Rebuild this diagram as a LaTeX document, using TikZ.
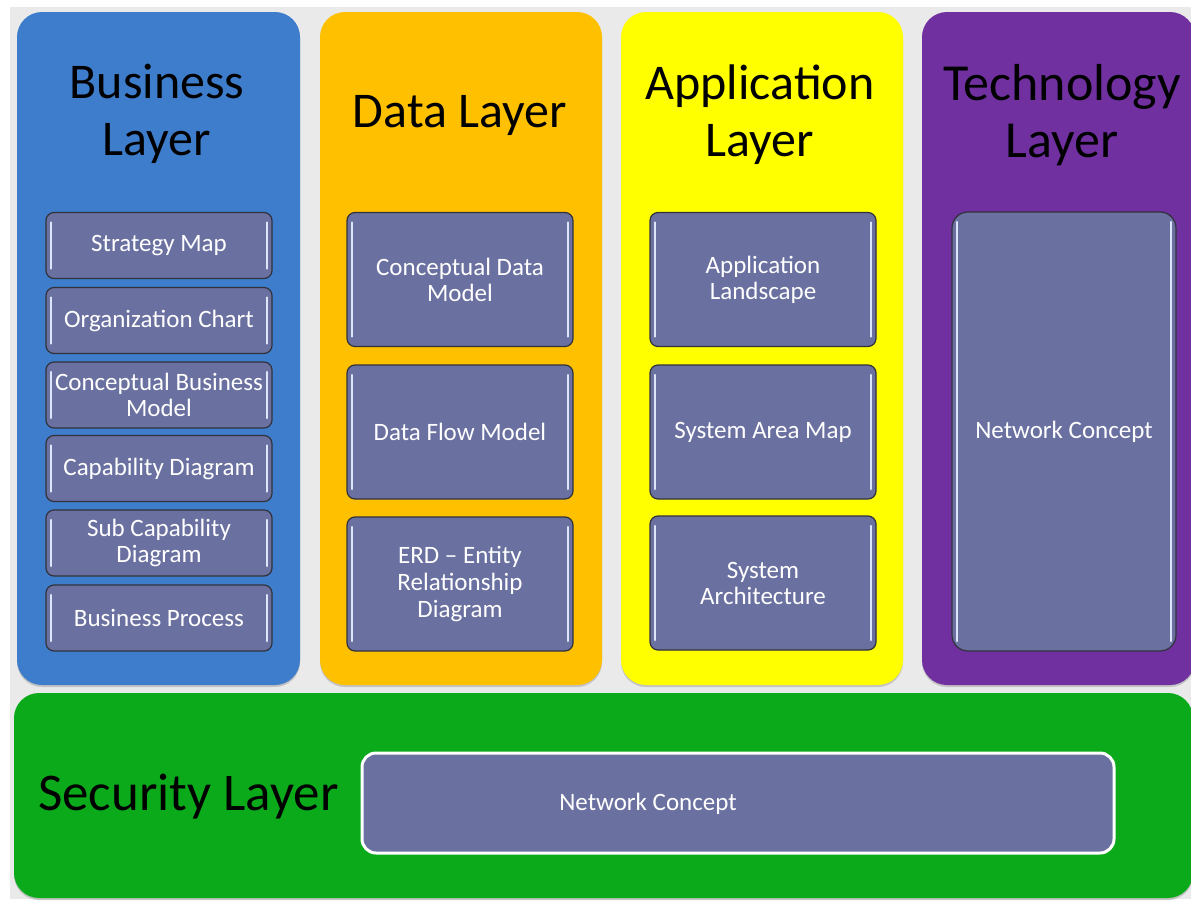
\documentclass[tikz,border=0pt]{standalone}
\usepackage{fontspec}
\setmainfont{Carlito}
\definecolor{bggray}{RGB}{234,234,234}
\definecolor{bizblue}{RGB}{61,125,203}
\definecolor{dataorange}{RGB}{255,192,0}
\definecolor{appyellow}{RGB}{255,255,0}
\definecolor{techpurple}{RGB}{112,48,160}
\definecolor{secgreen}{RGB}{10,170,26}
\definecolor{slate}{RGB}{106,112,160}
\definecolor{boxedge}{RGB}{50,50,60}
\definecolor{hlcol}{RGB}{220,230,248}
\definecolor{shadowgray}{RGB}{195,195,195}
\begin{document}
\begin{tikzpicture}[x=1pt,y=-1pt,
  layer/.style={draw=none, rounded corners=25pt, inner sep=0pt},
  layershadow/.style={fill=shadowgray, draw=none, rounded corners=25pt, inner sep=0pt},
  title/.style={font=\fontsize{50}{57}\selectfont, text=black, align=center, inner sep=0pt},
  hl/.style={line width=2.5pt, draw=hlcol, line cap=round},
  subbox/.style={draw=boxedge, line width=1.2pt, fill=slate, rounded corners=8pt,
    minimum width=226pt, inner sep=0pt, align=center, text=white,
    font=\fontsize{25}{26}\selectfont,
    path picture={
      \draw[hl] ([xshift=5pt,yshift=-10pt]path picture bounding box.north west) -- ([xshift=5pt,yshift=10pt]path picture bounding box.south west);
      \draw[hl] ([xshift=-5pt,yshift=-10pt]path picture bounding box.north east) -- ([xshift=-5pt,yshift=10pt]path picture bounding box.south east);
    }},
  smallbox/.style={subbox, minimum height=66pt},
  bigbox/.style={subbox, minimum height=134pt}
]
\useasboundingbox (0,0) rectangle (1191,902);
\clip (0,0) rectangle (1191,902);
\fill[white] (0,0) rectangle (1191,902);
\fill[bggray] (10,7) rectangle (1191,899);

% shadows
\node[layershadow, minimum width=283pt, minimum height=673pt] (bizsh) at (158.5,350.5) {};
\node[layershadow, minimum width=282pt, minimum height=673pt] (datash) at (461,350.5) {};
\node[layershadow, minimum width=282pt, minimum height=673pt] (appsh) at (762,350.5) {};
\node[layershadow, minimum width=273pt, minimum height=673pt] (techsh) at (1058.5,350.5) {};
\node[layershadow, minimum width=1179pt, minimum height=205pt] (secsh) at (603.5,797.5) {};

% columns
\node[layer, fill=bizblue, minimum width=283pt, minimum height=673pt] (business) at (158.5,348.5) {};
\node[layer, fill=dataorange, minimum width=282pt, minimum height=673pt] (data) at (461,348.5) {};
\node[layer, fill=appyellow, minimum width=282pt, minimum height=673pt] (app) at (762,348.5) {};
\node[layer, fill=techpurple, minimum width=273pt, minimum height=673pt] (tech) at (1058.5,348.5) {};
\node[layer, fill=secgreen, minimum width=1179pt, minimum height=205pt] (security) at (603.5,795.5) {};

% titles
\node[title] (bizt) at (157,113.5) {Business\\Layer};
\node[title] (datat) at (460,115) {Data Layer};
\node[title] (appt) at (760,115) {Application\\Layer};
\node[title, font=\fontsize{52}{57}\selectfont] (techt) at (1062,115) {Technology\\Layer};
\node[title, font=\fontsize{53}{57}\selectfont, anchor=base west] (sect) at (38,810) {Security Layer};

% business boxes
\node[smallbox] (b1) at (159,245.5) {Strategy Map};
\node[smallbox] (b2) at (159,320.5) {Organization Chart};
\node[smallbox] (b3) at (159,395) {Conceptual Business\\Model};
\node[smallbox] (b4) at (159,468.5) {Capability Diagram};
\node[smallbox] (b5) at (159,543) {Sub Capability\\Diagram};
\node[smallbox] (b6) at (159,618) {Business Process};

% data boxes
\node[bigbox] (d1) at (460,279.5) {Conceptual Data\\Model};
\node[bigbox, text depth=0pt] (d2) at (460,432) {Data Flow Model};
\node[bigbox, font=\fontsize{25}{27}\selectfont] (d3) at (460,584) {ERD -- Entity\\Relationship\\Diagram};

% application boxes
\node[bigbox] (a1) at (763,279.5) {Application\\Landscape};
\node[bigbox] (a2) at (763,432) {System Area Map};
\node[bigbox] (a3) at (763,583) {System\\Architecture};

% technology box
\node[subbox, rounded corners=16pt, minimum width=224pt, minimum height=439pt] (t1) at (1064,431.5) {Network Concept};

% security inner box
\node[draw=white, line width=3pt, fill=slate, rounded corners=14pt, minimum width=752pt, minimum height=100pt, inner sep=0pt] (s1) at (738,803) {};
\node[text=white, font=\fontsize{25}{26}\selectfont, inner sep=0pt] (s1label) at (648,804) {Network Concept};
\end{tikzpicture}
\end{document}
